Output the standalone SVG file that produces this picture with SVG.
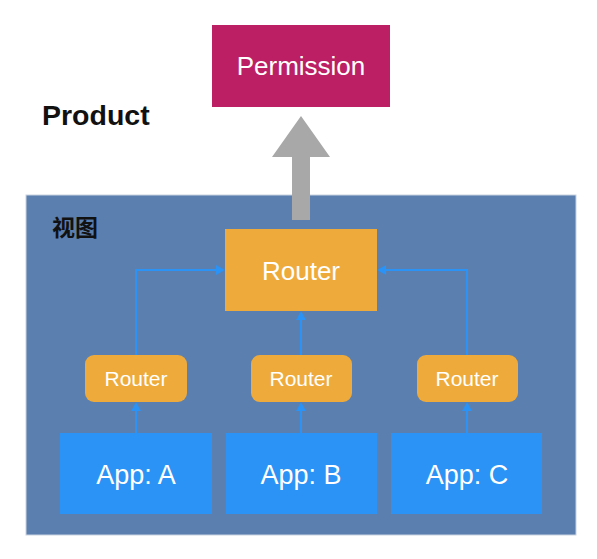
<svg xmlns="http://www.w3.org/2000/svg" width="597" height="559" viewBox="0 0 597 559">
<style>
.t{font-family:"Liberation Sans",Arial,sans-serif;fill:#fff;text-anchor:middle}
.router{fill:#EEAB3C}
.app{fill:#2A93F5}
.ln{fill:none;stroke:#2A93F5;stroke-width:2}
.hd{fill:#2A93F5}
</style>
<rect width="597" height="559" fill="#fff"/>
<g id="panel">
<rect x="26" y="195" width="550" height="340" fill="#5B7FAE" stroke="#C9D3E2" stroke-width="1"/>
<text x="52" y="236" font-family="'Noto Sans CJK SC',sans-serif" font-size="23" font-weight="bold" fill="#111">视图</text>
</g>
<g id="product">
<text x="42" y="125" font-family="'Liberation Sans',Arial,sans-serif" font-size="28.5" font-weight="bold" fill="#111">Product</text>
</g>
<g id="permission">
<rect x="212" y="25" width="178" height="82" fill="#BC1F63"/>
<text class="t" x="301" y="75" font-size="26">Permission</text>
</g>
<g id="big-arrow">
<path d="M301,116 L330,157 L310,157 L310,220 L292,220 L292,157 L272,157 Z" fill="#A8A8A8"/>
</g>
<g id="router-main">
<rect class="router" x="225" y="229" width="152" height="82"/>
<text class="t" x="301" y="280" font-size="26">Router</text>
</g>
<g id="router-a">
<rect class="router" x="85" y="355" width="102" height="47" rx="9"/>
<text class="t" x="136" y="386" font-size="21">Router</text>
</g>
<g id="router-b">
<rect class="router" x="251" y="355" width="101" height="47" rx="9"/>
<text class="t" x="301" y="386" font-size="21">Router</text>
</g>
<g id="router-c">
<rect class="router" x="417" y="355" width="101" height="47" rx="9"/>
<text class="t" x="467" y="386" font-size="21">Router</text>
</g>
<g id="app-a">
<rect class="app" x="60" y="433" width="152" height="81"/>
<text class="t" x="136" y="484" font-size="27">App: A</text>
</g>
<g id="app-b">
<rect class="app" x="226" y="433" width="151" height="81"/>
<text class="t" x="301" y="484" font-size="27">App: B</text>
</g>
<g id="app-c">
<rect class="app" x="391" y="433" width="151" height="81"/>
<text class="t" x="467" y="484" font-size="27">App: C</text>
</g>
<g id="connectors">
<path class="ln" d="M136,433 L136,410"/>
<path class="hd" d="M136,402 L141,411 L131,411 Z"/>
<path class="ln" d="M301,433 L301,410"/>
<path class="hd" d="M301,402 L306,411 L296,411 Z"/>
<path class="ln" d="M467,433 L467,410"/>
<path class="hd" d="M467,402 L472,411 L462,411 Z"/>
<path class="ln" d="M136,355 L136,270 L217,270"/>
<path class="hd" d="M225,270 L216,265 L216,275 Z"/>
<path class="ln" d="M467,355 L467,270 L385,270"/>
<path class="hd" d="M377,270 L386,265 L386,275 Z"/>
<path class="ln" d="M301,355 L301,319"/>
<path class="hd" d="M301,311 L306,320 L296,320 Z"/>
</g>
</svg>
